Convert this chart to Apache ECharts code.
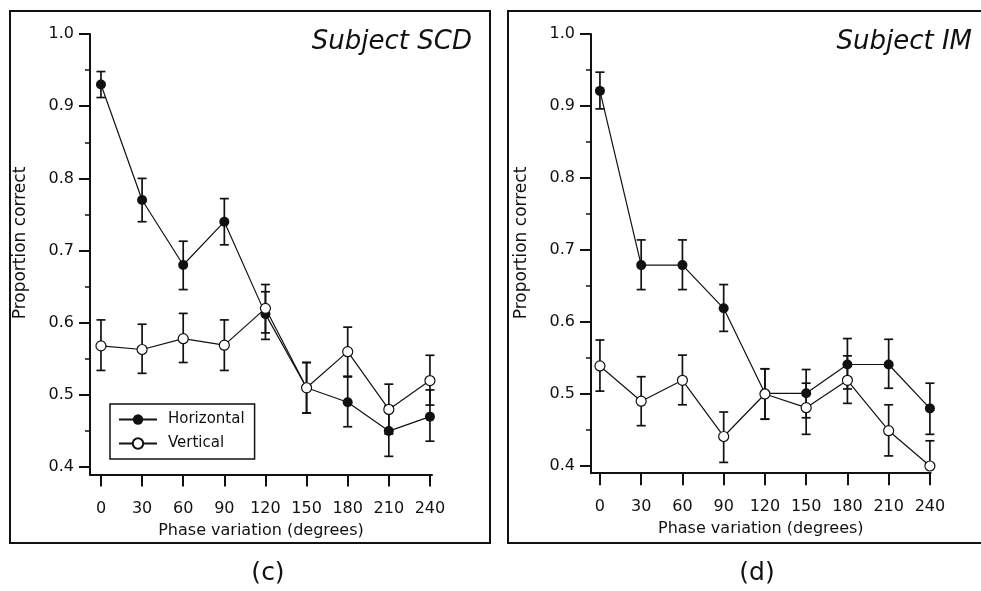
<!DOCTYPE html>
<html>
<head>
<meta charset="utf-8">
<script src="https://cdn.jsdelivr.net/npm/echarts@6/dist/echarts.min.js"></script>
<style>
html,body{margin:0;padding:0;background:#fff;}
#chart{width:981px;height:591px;}
</style>
</head>
<body>
<div id="chart"></div>
<script>
// ---- data ----
const phases = [0, 30, 60, 90, 120, 150, 180, 210, 240];
const xTicks = [0, 30, 60, 90, 120, 150, 180, 210, 240];
const yTicks = [0.4, 0.5, 0.6, 0.7, 0.8, 0.9, 1.0];
const yMinorTicks = [0.45, 0.55, 0.65, 0.75, 0.85, 0.95];
const seriesNames = ['Horizontal', 'Vertical'];
const panelTitles = ['Subject SCD', 'Subject IM'];
const panelLabels = ['(c)', '(d)'];
const xAxisName = 'Phase variation (degrees)';
const yAxisName = 'Proportion correct';

// Subject SCD
const scdHorizontal     = [0.930, 0.770, 0.680, 0.740, 0.612, 0.510, 0.490, 0.450, 0.470];
const scdHorizontalLow  = [0.912, 0.740, 0.646, 0.708, 0.577, 0.475, 0.456, 0.415, 0.436];
const scdHorizontalHigh = [0.948, 0.800, 0.713, 0.772, 0.643, 0.545, 0.525, 0.485, 0.507];
const scdVertical       = [0.568, 0.563, 0.578, 0.569, 0.620, 0.510, 0.560, 0.480, 0.520];
const scdVerticalLow    = [0.534, 0.530, 0.545, 0.534, 0.586, 0.475, 0.526, 0.446, 0.486];
const scdVerticalHigh   = [0.604, 0.598, 0.613, 0.604, 0.653, 0.545, 0.594, 0.515, 0.555];

// Subject IM
const imHorizontal      = [0.921, 0.679, 0.679, 0.619, 0.501, 0.501, 0.541, 0.541, 0.480];
const imHorizontalLow   = [0.896, 0.645, 0.645, 0.587, 0.465, 0.467, 0.507, 0.508, 0.444];
const imHorizontalHigh  = [0.947, 0.714, 0.714, 0.652, 0.535, 0.534, 0.577, 0.576, 0.515];
const imVertical        = [0.539, 0.490, 0.519, 0.441, 0.500, 0.481, 0.519, 0.449, 0.400];
const imVerticalLow     = [0.504, 0.456, 0.485, 0.405, 0.465, 0.444, 0.487, 0.414, 0.400];
const imVerticalHigh    = [0.575, 0.524, 0.554, 0.475, 0.535, 0.515, 0.553, 0.485, 0.435];

// ---- chart ----
const FONT = 'DejaVu Sans';
const INK = '#111';
const chart = echarts.init(document.getElementById('chart'), null, {renderer: 'canvas'});

function pairs(xs, ys) { return xs.map((x, i) => [x, ys[i]]); }
function triples(xs, lo, hi) { return xs.map((x, i) => [x, lo[i], hi[i]]); }

function errRender(params, api) {
  const x = api.value(0), lo = api.value(1), hi = api.value(2);
  const a = api.coord([x, hi]);
  const b = api.coord([x, lo]);
  const hw = 4.5;
  const st = {stroke: INK, lineWidth: 1.7};
  return {
    type: 'group',
    children: [
      {type: 'line', shape: {x1: a[0], y1: a[1], x2: b[0], y2: b[1]}, style: st},
      {type: 'line', shape: {x1: a[0] - hw, y1: a[1], x2: a[0] + hw, y2: a[1]}, style: st},
      {type: 'line', shape: {x1: b[0] - hw, y1: b[1], x2: b[0] + hw, y2: b[1]}, style: st}
    ]
  };
}

const grids = [
  {left: 90, top: 34, width: 342, height: 440.4},
  {left: 591, top: 34, width: 339.6, height: 439.2}
];
const xRanges = [[-8, 241.5], [-6.5, 240.5]];

const xAxes = [], yAxes = [], series = [];
const panelData = [
  [scdHorizontal, scdHorizontalLow, scdHorizontalHigh, scdVertical, scdVerticalLow, scdVerticalHigh],
  [imHorizontal, imHorizontalLow, imHorizontalHigh, imVertical, imVerticalLow, imVerticalHigh]
];

for (let g = 0; g < 2; g++) {
  xAxes.push({
    type: 'value', gridIndex: g, min: xRanges[g][0], max: xRanges[g][1],
    name: xAxisName, nameLocation: 'middle', nameGap: 48,
    nameTextStyle: {fontFamily: FONT, fontSize: 16, color: INK},
    axisLine: {show: true, onZero: false, lineStyle: {color: INK, width: 2}},
    axisTick: {show: true, inside: false, length: 12, lineStyle: {color: INK, width: 2}, customValues: xTicks},
    axisLabel: {show: true, margin: 26, fontFamily: FONT, fontSize: 16, color: INK, customValues: xTicks},
    splitLine: {show: false}
  });
  yAxes.push({
    type: 'value', gridIndex: g, min: 0.39, max: 1.0, position: 'left',
    axisLine: {show: true, onZero: false, lineStyle: {color: INK, width: 2}},
    axisTick: {show: true, length: 11, lineStyle: {color: INK, width: 2}, customValues: yTicks},
    axisLabel: {show: true, margin: 16, fontFamily: FONT, fontSize: 16, color: INK,
      customValues: yTicks, formatter: v => v.toFixed(1)},
    splitLine: {show: false}
  });
  yAxes.push({
    type: 'value', gridIndex: g, min: 0.39, max: 1.0, position: 'left',
    axisLine: {show: false, onZero: false},
    axisTick: {show: true, length: 5, lineStyle: {color: INK, width: 1.5}, customValues: yMinorTicks},
    axisLabel: {show: false, customValues: yMinorTicks},
    splitLine: {show: false}
  });
  const d = panelData[g];
  const yIdx = g * 2;
  series.push({
    type: 'custom', name: 'errH' + g, xAxisIndex: g, yAxisIndex: yIdx,
    renderItem: errRender, encode: {x: 0, y: [1, 2]},
    data: triples(phases, d[1], d[2]), z: 2
  });
  series.push({
    type: 'custom', name: 'errV' + g, xAxisIndex: g, yAxisIndex: yIdx,
    renderItem: errRender, encode: {x: 0, y: [1, 2]},
    data: triples(phases, d[4], d[5]), z: 2
  });
  series.push({
    type: 'line', name: seriesNames[0], xAxisIndex: g, yAxisIndex: yIdx,
    data: pairs(phases, d[0]), symbol: 'circle', symbolSize: 10,
    lineStyle: {color: INK, width: 1.2},
    itemStyle: {color: INK, borderColor: INK, borderWidth: 0},
    z: 4
  });
  series.push({
    type: 'line', name: seriesNames[1], xAxisIndex: g, yAxisIndex: yIdx,
    data: pairs(phases, d[3]), symbol: 'circle', symbolSize: 10,
    lineStyle: {color: INK, width: 1.2},
    itemStyle: {color: '#fff', borderColor: INK, borderWidth: 1.2},
    z: 5
  });
}

const graphics = [
  {type: 'rect', shape: {x: 10, y: 11, width: 480, height: 532}, style: {fill: 'none', stroke: INK, lineWidth: 2}, silent: true},
  {type: 'rect', shape: {x: 508, y: 11, width: 485, height: 532}, style: {fill: 'none', stroke: INK, lineWidth: 2}, silent: true},
  {type: 'text', x: 472, y: 42, style: {text: panelTitles[0], font: 'italic 26px "DejaVu Sans"', fill: INK, align: 'right', verticalAlign: 'middle'}},
  {type: 'text', x: 972, y: 42, style: {text: panelTitles[1], font: 'italic 26px "DejaVu Sans"', fill: INK, align: 'right', verticalAlign: 'middle'}},
  {type: 'text', x: 268, y: 573, style: {text: panelLabels[0], font: '25px "DejaVu Sans"', fill: INK, align: 'center', verticalAlign: 'middle'}},
  {type: 'text', x: 757, y: 573, style: {text: panelLabels[1], font: '25px "DejaVu Sans"', fill: INK, align: 'center', verticalAlign: 'middle'}},
  {type: 'text', x: 21, y: 243, rotation: Math.PI / 2, style: {text: yAxisName, font: '17px "DejaVu Sans"', fill: INK, align: 'center', verticalAlign: 'middle'}},
  {type: 'text', x: 522, y: 243, rotation: Math.PI / 2, style: {text: yAxisName, font: '17px "DejaVu Sans"', fill: INK, align: 'center', verticalAlign: 'middle'}}
];

chart.setOption({
  animation: false,
  backgroundColor: '#fff',
  grid: grids,
  xAxis: xAxes,
  yAxis: yAxes,
  legend: {
    data: seriesNames,
    orient: 'vertical',
    left: 110, top: 404,
    padding: [8, 10, 8, 8],
    itemWidth: 38, itemHeight: 13, itemGap: 9,
    borderColor: INK, borderWidth: 1.5, backgroundColor: '#fff',
    textStyle: {fontFamily: FONT, fontSize: 15, color: INK, padding: [0, 0, 0, 6]},
    selectedMode: false
  },
  series: series,
  graphic: graphics
});
</script>
</body>
</html>
